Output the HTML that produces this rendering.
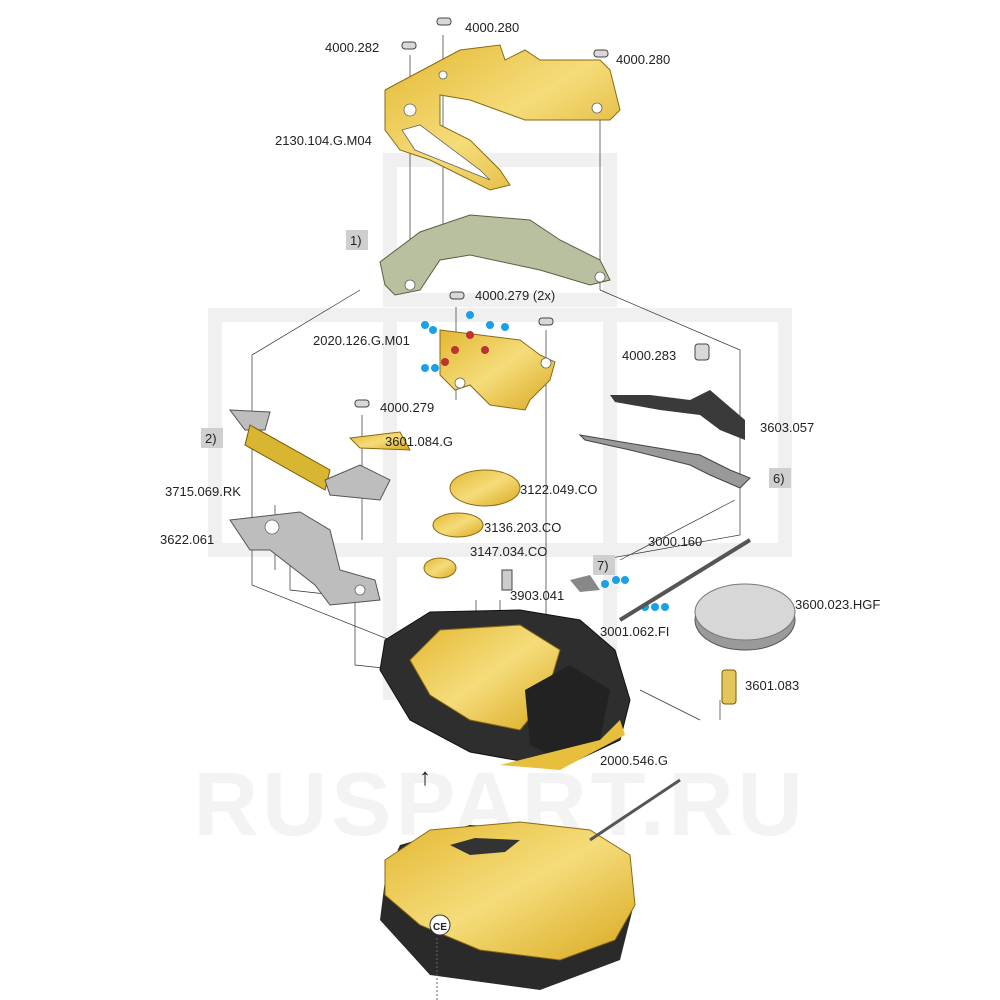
<!DOCTYPE html>
<html><head><meta charset="utf-8"><style>
html,body{margin:0;padding:0;background:#fff}
svg{display:block}
text{font-family:"Liberation Sans",sans-serif;font-size:13px;fill:#222}
.l{stroke:#333;stroke-width:0.7;fill:none}
.g{fill:url(#gg);stroke:#8a6a10;stroke-width:1}
.s{fill:#bdbdbd;stroke:#555;stroke-width:1}
.d{fill:#2e2e2e;stroke:#111;stroke-width:1}
.h{fill:#fff;stroke:#666;stroke-width:0.8}
.bx{fill:#cfcfcf}
</style></head><body>
<svg width="1000" height="1000" viewBox="0 0 1000 1000">
<defs><linearGradient id="gg" x1="0" y1="0" x2="1" y2="1"><stop offset="0" stop-color="#e3b832"/><stop offset="0.5" stop-color="#f5dc7a"/><stop offset="1" stop-color="#d9a920"/></linearGradient></defs>
<!-- watermark -->
<g fill="none" stroke="#f0f0f0" stroke-width="14">
<path d="M390 160H610V300H390Z M215 315H785V550H215Z M390 320V700 M610 320V700"/>
</g>
<text x="500" y="835" text-anchor="middle" style="font-size:90px;font-weight:bold;fill:#f3f3f3;letter-spacing:4px">RUSPART.RU</text>

<!-- connector lines -->
<path class="l" d="M410 55V290 M443 35V245 M600 65V290 M360 290L252 355V585L390 640 M600 290L740 350V535L600 560 M456 307V400 M546 330V660 M362 415V540 M275 505V570 M290 560V590L380 600 M735 500L620 560 M740 440V480 M700 720L640 690 M720 700V720 M476 600V660 M500 600V690 M355 600V665L420 672"/>

<!-- top plate 2130 -->
<path class="g" d="M385 90L460 50L500 45L505 60L525 50L540 60L600 60L610 70L620 110L610 120L525 120L470 100L440 95L440 125L470 140L500 170L510 185L490 190L430 160L400 150L385 130Z"/>
<path class="h" d="M402 130L420 125L480 170L490 180L415 150Z"/>
<circle class="h" cx="410" cy="110" r="6"/><circle class="h" cx="597" cy="108" r="5"/><circle class="h" cx="443" cy="75" r="4"/>
<!-- grey plate 1) -->
<path d="M380 262L420 232L470 215L530 220L560 240L600 260L610 280L590 285L540 270L470 255L440 260L420 290L395 295L385 285Z" fill="#b9c0a0" stroke="#5a6040"/>
<circle class="h" cx="410" cy="285" r="5"/><circle class="h" cx="600" cy="277" r="5"/>
<!-- small gold bridge 2020 -->
<path class="g" d="M440 330L520 340L540 355L555 362L550 380L530 400L525 410L490 405L470 385L455 390L440 375Z"/>
<circle class="h" cx="460" cy="383" r="5"/><circle class="h" cx="546" cy="363" r="5"/>
<circle cx="455" cy="350" r="4" fill="#b33"/><circle cx="470" cy="335" r="4" fill="#b33"/><circle cx="485" cy="350" r="4" fill="#b33"/><circle cx="445" cy="362" r="4" fill="#b33"/>
<g fill="#1aa0e6"><circle cx="425" cy="325" r="4"/><circle cx="433" cy="330" r="4"/><circle cx="470" cy="315" r="4"/><circle cx="490" cy="325" r="4"/><circle cx="505" cy="327" r="4"/><circle cx="425" cy="368" r="4"/><circle cx="435" cy="368" r="4"/>
<circle cx="605" cy="584" r="4"/><circle cx="616" cy="580" r="4"/><circle cx="625" cy="580" r="4"/><circle cx="645" cy="607" r="4"/><circle cx="655" cy="607" r="4"/><circle cx="665" cy="607" r="4"/></g>
<!-- screws -->
<g fill="#d8d8d8" stroke="#444"><rect x="402" y="42" width="14" height="7" rx="3"/><rect x="437" y="18" width="14" height="7" rx="3"/><rect x="594" y="50" width="14" height="7" rx="3"/><rect x="450" y="292" width="14" height="7" rx="3"/><rect x="539" y="318" width="14" height="7" rx="3"/><rect x="355" y="400" width="14" height="7" rx="3"/><rect x="695" y="344" width="14" height="16" rx="3"/></g>
<!-- spring 2) -->
<path class="s" d="M230 410L270 412L265 430L245 430Z"/>
<path d="M250 425L330 470L325 490L245 445Z" fill="#d9b632" stroke="#7a5a00"/>
<path class="s" d="M325 480L360 465L390 480L380 500L330 495Z"/>
<!-- 3601.084.G -->
<path class="g" d="M350 438L400 432L410 450L360 448Z"/>
<!-- 3622.061 -->
<path class="s" d="M230 520L300 512L330 530L340 570L375 580L380 600L330 605L315 585L270 550L250 550Z"/>
<circle class="h" cx="272" cy="527" r="7"/><circle class="h" cx="360" cy="590" r="5"/>
<!-- levers -->
<path d="M610 395L650 395L690 400L710 390L745 420L745 440L720 430L700 415L660 410L615 402Z" fill="#3a3a3a"/>
<path d="M580 435L640 445L700 455L730 470L750 478L740 488L710 475L690 465L630 450L585 440Z" fill="#999" stroke="#444"/>
<!-- gears -->
<ellipse class="g" cx="485" cy="488" rx="35" ry="18"/>
<ellipse class="g" cx="458" cy="525" rx="25" ry="12"/>
<ellipse class="g" cx="440" cy="568" rx="16" ry="10"/>
<rect x="502" y="570" width="10" height="20" fill="#ccc" stroke="#444"/>
<!-- stem -->
<path d="M620 620L750 540" stroke="#555" stroke-width="4"/>
<path d="M570 580L590 575L600 590L580 592Z" fill="#888"/>
<!-- battery -->
<ellipse cx="745" cy="620" rx="50" ry="30" fill="#9a9a9a" stroke="#555"/>
<ellipse cx="745" cy="612" rx="50" ry="28" fill="#d7d7d7" stroke="#777"/>
<!-- 3601.083 -->
<rect x="722" y="670" width="14" height="34" rx="3" fill="#e4c55a" stroke="#7a5a00"/>
<!-- main plate -->
<path class="d" d="M385 640L430 612L520 610L580 620L615 650L630 700L620 740L560 768L470 752L410 720L380 670Z"/>
<path class="g" d="M410 660L440 630L520 625L560 650L545 700L520 730L470 720L430 695Z"/>
<path d="M525 690L570 665L610 690L600 740L560 760L530 745Z" fill="#222"/>
<path d="M500 765L600 740L620 720L625 735L560 770Z" fill="#e7bf3d"/>
<!-- bottom plate -->
<path d="M385 880L380 920L430 975L540 990L620 960L635 900L620 860L560 830L470 825L400 845Z" fill="#2a2a2a"/>
<path class="g" d="M385 860L430 830L520 822L590 830L630 855L635 905L615 940L560 960L480 950L420 925L385 895Z"/>
<path d="M450 845L475 838L520 840L505 852L470 855Z" fill="#333"/>
<circle cx="440" cy="925" r="10" fill="#fff" stroke="#333"/>
<text x="433" y="930" style="font-size:10px;font-weight:bold">CE</text>
<path d="M590 840L680 780" stroke="#555" stroke-width="3"/>
<path d="M437 938V1000" stroke="#666" stroke-dasharray="2 2"/>
<!-- arrow -->
<text x="425" y="785" text-anchor="middle" style="font-size:24px">↑</text>

<!-- boxes -->
<rect class="bx" x="346" y="230" width="22" height="20"/><text x="350" y="245">1)</text>
<rect class="bx" x="201" y="428" width="22" height="20"/><text x="205" y="443">2)</text>
<rect class="bx" x="769" y="468" width="22" height="20"/><text x="773" y="483">6)</text>
<rect class="bx" x="593" y="555" width="22" height="20"/><text x="597" y="570">7)</text>

<!-- labels -->
<text x="325" y="52">4000.282</text>
<text x="465" y="32">4000.280</text>
<text x="616" y="64">4000.280</text>
<text x="275" y="145">2130.104.G.M04</text>
<text x="475" y="300">4000.279 (2x)</text>
<text x="313" y="345">2020.126.G.M01</text>
<text x="622" y="360">4000.283</text>
<text x="380" y="412">4000.279</text>
<text x="760" y="432">3603.057</text>
<text x="385" y="446">3601.084.G</text>
<text x="165" y="496">3715.069.RK</text>
<text x="520" y="494">3122.049.CO</text>
<text x="484" y="532">3136.203.CO</text>
<text x="160" y="544">3622.061</text>
<text x="648" y="546">3000.160</text>
<text x="470" y="556">3147.034.CO</text>
<text x="510" y="600">3903.041</text>
<text x="795" y="609">3600.023.HGF</text>
<text x="600" y="636">3001.062.FI</text>
<text x="745" y="690">3601.083</text>
<text x="600" y="765">2000.546.G</text>
</svg>
</body></html>
